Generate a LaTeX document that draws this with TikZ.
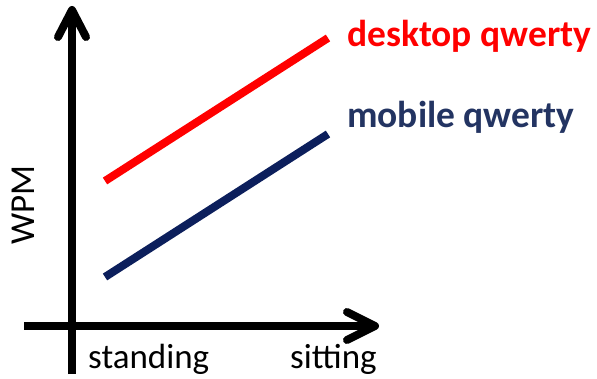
\documentclass[tikz,border=0pt]{standalone}
\usepackage{fontspec}
\setmainfont{Carlito}
\definecolor{navyline}{HTML}{0C1F5C}
\definecolor{navytext}{HTML}{233462}
\begin{document}
\begin{tikzpicture}[x=1pt,y=-1pt,
  axis/.style={line width=8pt,black},
  chev/.style={line width=8pt,black,line cap=round,line join=round},
  series/.style={line width=8pt},
  lab/.style={font=\fontsize{35}{40}\selectfont,inner sep=0pt,anchor=base west},
  serieslab/.style={font=\fontsize{37.5}{42}\selectfont\bfseries,inner sep=0pt,anchor=base west}]
\useasboundingbox (0,0) rectangle (597,379);
% axes
\coordinate (ybot) at (72,374);
\coordinate (ytop) at (72,11);
\coordinate (xl) at (24,326);
\coordinate (xr) at (373,326);
\draw[axis] (ybot) -- (ytop);
\draw[axis] (xl) -- (xr);
\coordinate (ya1) at (58,37);
\coordinate (ya2) at (86,37);
\draw[chev] (ya1) -- (72,10) -- (ya2);
\coordinate (xa1) at (347,312);
\coordinate (xa2) at (347,340);
\draw[chev] (xa1) -- (375,326) -- (xa2);
% series
\coordinate (r1) at (105,181);
\coordinate (r2) at (328,38);
\coordinate (b1) at (105,277);
\coordinate (b2) at (328,134);
\draw[series,red] (r1) -- (r2);
\draw[series,navyline] (b1) -- (b2);
% labels
\node[serieslab,text=red] (dq) at (347,47) {desktop qwerty};
\node[serieslab,text=navytext] (mq) at (347,128) {mobile qwerty};
\node[lab] (st) at (88,368) {standing};
\node[lab] (si) at (290,368) {sitting};
\node[font=\fontsize{35}{40}\selectfont,inner sep=0pt,rotate=90] (wpm) at (23,205) {WPM};
\end{tikzpicture}
\end{document}
